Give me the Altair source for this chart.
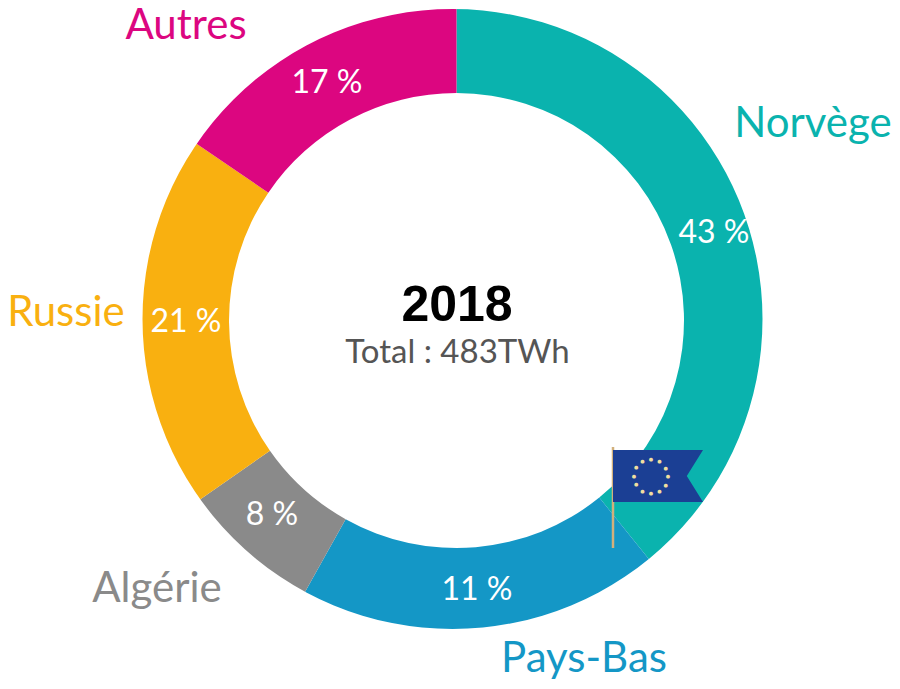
import altair as alt
import pandas as pd

names = ["Norvège", "Pays-Bas", "Algérie", "Russie", "Autres"]
# slice sizes as drawn (the drawn angles differ from the printed figures)
drawn = [39.2, 18.9, 7.2, 19.2, 15.5]
printed = ["43 %", "11 %", "8 %", "21 %", "17 %"]
colors = ["#0AB3AE", "#1497C6", "#8A8A8A", "#F9B010", "#DC0680"]
order = [0, 1, 2, 3, 4]

label_x = [813, 584, 157, 66, 186]
label_y = [124, 659, 589, 313, 26]
pct_x = [714, 477, 272, 186, 327]
pct_y = [233, 590, 515, 322, 83]

star_hours = list(range(12))

cx, cy, outer, inner = 448.5, 312.5, 325, 227.5
edge_x, edge_y, edge_r = 444.5, 311, 310

df = pd.DataFrame({"name": names, "drawn": drawn, "ord": order})
lab = pd.DataFrame({"name": names, "x": [v - 8 for v in label_x], "y": [v - 8 for v in label_y]})
pdf = pd.DataFrame({"t": printed, "x": [v - 8 for v in pct_x], "y": [v - 8 for v in pct_y]})
colscale = alt.Scale(domain=names, range=colors)

arcs = alt.Chart(df).mark_arc(outerRadius=outer, innerRadius=inner).encode(
    theta=alt.Theta("drawn:Q", stack=True),
    order=alt.Order("ord:Q"),
    color=alt.Color("name:N", scale=colscale, legend=None),
    x=alt.value(cx), y=alt.value(cy),
)
edge = alt.Chart(pd.DataFrame({"k": [1]})).mark_arc(
    outerRadius=350, innerRadius=edge_r, color="white"
).encode(theta=alt.Theta("k:Q", scale=alt.Scale(domain=[0, 1], range=[0, 6.2832])),
         x=alt.value(edge_x), y=alt.value(edge_y))
pct = alt.Chart(pdf).mark_text(font="Lato", fontSize=32, color="white", baseline="middle", align="center").encode(
    x=alt.X("x:Q", scale=None), y=alt.Y("y:Q", scale=None), text="t:N",
)
outer_labels = alt.Chart(lab).mark_text(font="Lato", fontSize=42, baseline="middle", align="center").encode(
    x=alt.X("x:Q", scale=None), y=alt.Y("y:Q", scale=None), text="name:N",
    color=alt.Color("name:N", scale=colscale, legend=None),
)
year = alt.Chart(pd.DataFrame({"t": ["2018"]})).mark_text(
    font="Liberation Sans", fontWeight="bold", fontSize=50, color="#000000", align="center", baseline="middle"
).encode(text="t:N", x=alt.value(449), y=alt.value(298))
total = alt.Chart(pd.DataFrame({"t": ["Total : 483TWh"]})).mark_text(
    font="Lato", fontSize=33, color="#555555", align="center", baseline="middle"
).encode(text="t:N", x=alt.value(449.5), y=alt.value(345))

pole = alt.Chart(pd.DataFrame({"k": [0]})).mark_rule(color="#D2B07C", strokeWidth=2.5).encode(
    x=alt.value(605), y=alt.value(439), y2=alt.value(540)
)
flag_path = "M-1,-0.58 L1,-0.58 L0.64,0 L1,0.58 L-1,0.58 Z"
flag = alt.Chart(pd.DataFrame({"k": [0]})).mark_point(
    shape=flag_path, size=8100, filled=True, opacity=1, color="#1B3F94", strokeWidth=0
).encode(x=alt.value(650), y=alt.value(468))
stars = alt.Chart(pd.DataFrame({"h": star_hours})).mark_text(
    text="●", radius=17, fontSize=5, color="#F0DFA0", font="DejaVu Sans", baseline="middle", align="center"
).encode(
    theta=alt.Theta("h:Q", scale=alt.Scale(domain=[0, 12], range=[0, 6.2832])),
    x=alt.value(643), y=alt.value(468),
)

chart = alt.layer(arcs, edge, pct, outer_labels, year, total, pole, flag, stars).resolve_scale(
    theta="independent"
).properties(width=884, height=673, padding=0, autosize="none", background="white").configure_view(stroke=None)

chart.save("out.html", embed_options={"renderer": "svg", "actions": False})
